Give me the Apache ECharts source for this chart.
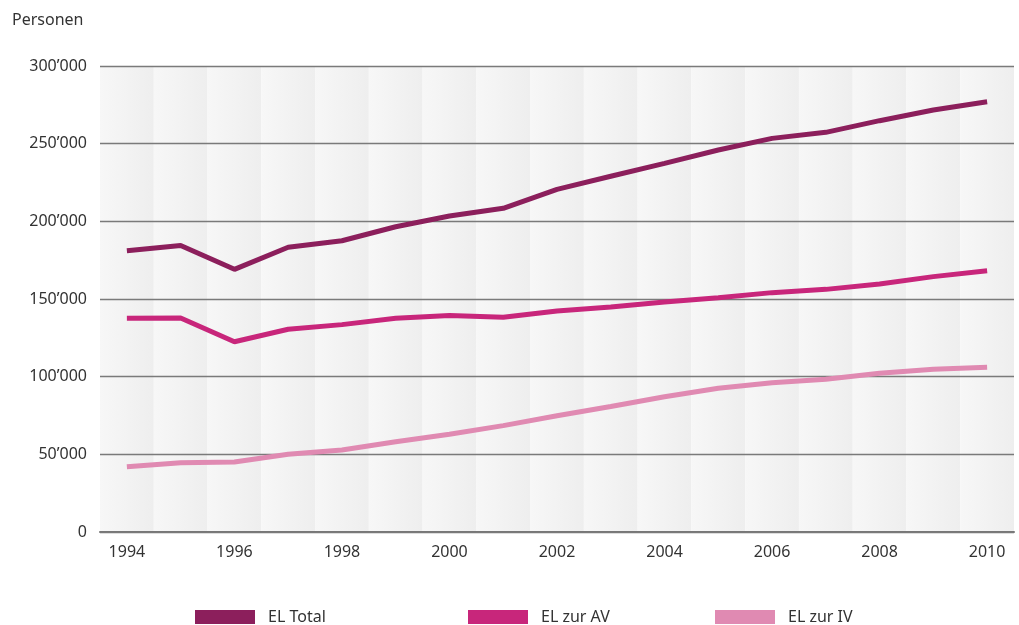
<!DOCTYPE html>
<html>
<head>
<meta charset="utf-8">
<script src="https://cdn.jsdelivr.net/npm/echarts@6/dist/echarts.min.js"></script>
<style>
html,body{margin:0;padding:0;background:#fff;}
#chart{width:1019px;height:625px;}
</style>
</head>
<body>
<div id="chart"></div>
<script>
var years = ['1994','1995','1996','1997','1998','1999','2000','2001','2002','2003','2004','2005','2006','2007','2008','2009','2010'];
var elTotal = [181100,184500,169100,183300,187500,196500,203400,208400,220600,229000,237300,245900,253400,257300,264800,271700,277000];
var elAV    = [137600,137800,122500,130500,133500,137600,139300,138200,142300,144800,148000,150800,154100,156200,159700,164400,168200];
var elIV    = [42000,44600,45100,50000,52800,58100,62900,68500,74800,80800,87100,92500,96100,98300,102200,104700,106000];
var seriesNames = ['EL Total','EL zur AV','EL zur IV'];
var colors = ['#8c1f5c','#c8267b','#e08ab2'];
var yTicks = [0,50000,100000,150000,200000,250000,300000];

var font = 'Noto Sans';
function band(a,b){
  return new echarts.graphic.LinearGradient(0,0,1,0,[{offset:0,color:a},{offset:1,color:b}]);
}
var chart = echarts.init(document.getElementById('chart'));
function legendFor(i,left){
  return {
    data:[seriesNames[i]], left:left, top:604, itemWidth:60, itemHeight:14, icon:'rect',
    textStyle:{fontFamily:font,fontSize:16,color:'#333',padding:[0,0,0,8]}
  };
}
chart.setOption({
  animation:false,
  title:{text:'Personen',left:7,top:7,textStyle:{fontFamily:font,fontSize:16,fontWeight:'normal',color:'#333'}},
  legend:[legendFor(0,190),legendFor(1,463),legendFor(2,710)],
  grid:{left:100,right:5,top:66,bottom:93},
  xAxis:{
    type:'category', data:years, boundaryGap:true, z:0,
    axisLine:{lineStyle:{color:'#777',width:2}},
    axisTick:{show:false},
    axisLabel:{interval:1,margin:12,fontFamily:font,fontSize:16,color:'#333'},
    splitArea:{show:true,interval:0,areaStyle:{color:[band('#f7f7f7','#eeeeee'),band('#f7f7f7','#eeeeee')]}}
  },
  yAxis:{
    type:'value', min:yTicks[0], max:yTicks[yTicks.length-1], interval:50000, z:1,
    axisLine:{show:false}, axisTick:{show:false},
    axisLabel:{margin:13,fontFamily:font,fontSize:16,color:'#333',
      formatter:function(v){return v===0?'0':(v/1000)+'\u2019000';}},
    splitLine:{lineStyle:{color:'#7a7a7a',width:1.3}}
  },
  series:[
    {name:seriesNames[0],type:'line',z:3,data:elTotal,symbol:'none',color:colors[0],lineStyle:{width:5,color:colors[0]}},
    {name:seriesNames[1],type:'line',z:3,data:elAV,symbol:'none',color:colors[1],lineStyle:{width:5,color:colors[1]}},
    {name:seriesNames[2],type:'line',z:3,data:elIV,symbol:'none',color:colors[2],lineStyle:{width:5,color:colors[2]}}
  ]
});
</script>
</body>
</html>
